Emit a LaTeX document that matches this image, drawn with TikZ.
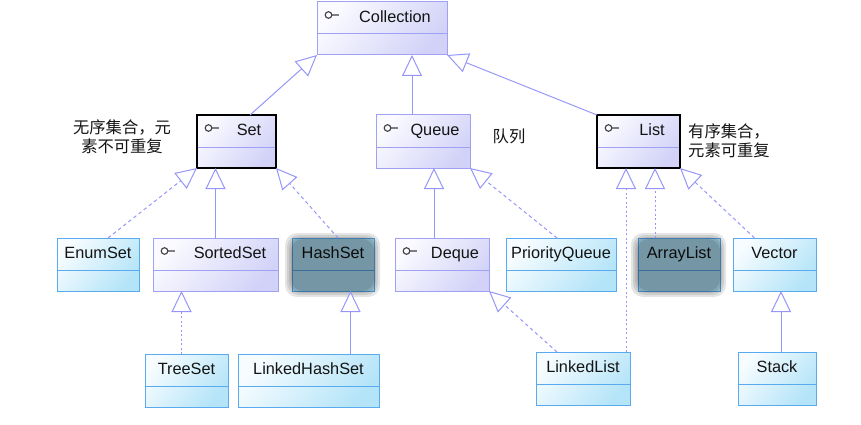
\documentclass[tikz,border=0pt]{standalone}
\usepackage{fontspec}
\setmainfont{Liberation Sans}
\newfontfamily\cjk{Noto Sans CJK SC}
\usetikzlibrary{arrows.meta,calc}

\definecolor{ibord}{RGB}{160,160,245}
\definecolor{ifillA}{RGB}{250,250,255}
\definecolor{ifillB}{RGB}{210,210,248}
\definecolor{cbord}{RGB}{90,170,240}
\definecolor{cfillA}{RGB}{246,252,255}
\definecolor{cfillB}{RGB}{180,228,248}
\definecolor{cfillD}{RGB}{182,234,254}
\definecolor{link}{RGB}{150,150,250}
\definecolor{ink}{RGB}{20,20,20}

\tikzset{
  box/.style={rectangle, inner sep=0pt, outer sep=0pt, line width=1pt},
  iface/.style={box, draw=ibord, top color=ifillA, bottom color=ifillB, shading angle=50,
    path picture={\draw[ibord, line width=1pt]
      ([yshift=-32pt]path picture bounding box.north west) --
      ([yshift=-32pt]path picture bounding box.north east);}},
  klass/.style={box, draw=cbord, top color=cfillA, bottom color=cfillB, shading angle=50,
    path picture={\draw[cbord, line width=1pt]
      ([yshift=-32pt]path picture bounding box.north west) --
      ([yshift=-32pt]path picture bounding box.north east);}},
  dimmed/.style={top color=cfillD, bottom color=cfillD},
  strong/.style={draw=black, line width=2.6pt},
  boxname/.style={anchor=base, inner sep=0pt, text=ink, font=\fontsize{16.3}{18}\selectfont},
  note/.style={inner sep=0pt, text=ink, font=\cjk\fontsize{16.3}{19}\selectfont},
  lolly/.style={draw=black!75, line width=1.1pt},
  gen/.style={draw=link, line width=1pt, -{Triangle[length=21pt, width=20pt, fill=white]}},
  dashline/.style={dash pattern=on 3.5pt off 3pt},
  dotline/.style={dash pattern=on 2pt off 2.5pt},
  dimmer/.style={fill=black, opacity=0.1, rounded corners=12pt}
}

% box: #1 name, #2 style, #3 left, #4 top, #5 right, #6 bottom, #7 text x, #8 text
\newcommand\umlbox[8]{%
  \node[#2, minimum width={(#5-#3)*1pt}, minimum height={(#6-#4)*1pt}]
    (#1) at ({(#3+#5)/2},{(#4+#6)/2}) {};
  \node[boxname] (#1-name) at (#7,{#4+20.5}) {#8};
}
% interface lollipop in the header
\newcommand\ifacesign[1]{%
  \draw[lolly] ([shift={(11.5pt,-13pt)}]#1.north west) circle[radius=3.3pt]
    ++(3.3pt,0pt) -- ++(7pt,0pt);
}
% soft grey highlight over a box
\newcommand\dimbox[1]{%
  \foreach \d in {0,2,4,6}
    \fill[dimmer] ($(#1.north west)+(-7+\d,-5+\d)$) rectangle ($(#1.south east)+(6-\d,6-\d)$);
}

\begin{document}
\begin{tikzpicture}[x=1pt, y=-1pt]
  \useasboundingbox (0,0) rectangle (861,425);

  % interfaces
  \umlbox{coll}{iface}{317}{2}{447}{55}{395}{Collection}
  \umlbox{set}{iface,strong}{197}{115}{276}{168}{249}{Set}
  \umlbox{queue}{iface}{376}{115}{470}{168}{435}{Queue}
  \umlbox{list}{iface,strong}{597}{115}{680}{168}{652}{List}
  \umlbox{sortedset}{iface}{153}{238}{278}{291}{230}{SortedSet}
  \umlbox{deque}{iface}{395}{238}{489}{291}{455}{Deque}
  \foreach \n in {coll,set,queue,list,sortedset,deque} {\ifacesign{\n}}

  % classes
  \umlbox{enumset}{klass}{57}{238}{139}{291}{98}{EnumSet}
  \umlbox{hashset}{klass,dimmed}{292}{238}{374}{291}{333}{HashSet}
  \umlbox{pq}{klass}{506}{238}{616}{291}{561}{PriorityQueue}
  \umlbox{arraylist}{klass,dimmed}{638}{238}{720}{291}{679}{ArrayList}
  \umlbox{vector}{klass}{733}{238}{816}{291}{774.5}{Vector}
  \umlbox{treeset}{klass}{145}{354}{228}{407}{186.5}{TreeSet}
  \umlbox{lhs}{klass}{238}{354}{379}{407}{308.5}{LinkedHashSet}
  \umlbox{linkedlist}{klass}{536}{352}{630}{405}{583}{LinkedList}
  \umlbox{stack}{klass}{738}{352}{816}{405}{777}{Stack}

  \dimbox{hashset}
  \dimbox{arraylist}

  % notes
  \node[note, align=center] (setnote) at (122,136.5) {无序集合，元\\素不可重复};
  \node[note] (queuenote) at (509,136) {队列};
  \node[note, align=left, anchor=west] (listnote) at (688,140.5) {有序集合，\\元素可重复};

  % generalisations
  \draw[gen] ($(set.north)+(13.5,0)$) -- (coll.south west);
  \draw[gen] ($(queue.north)+(-11,0)$) -- ($(coll.south)+(30,0)$);
  \draw[gen] (list.north west) -- (coll.south east);

  \draw[gen,dashline] ($(enumset.north)+(10,0)$) -- (set.south west);
  \draw[gen] (sortedset.north) -- (sortedset.north |- set.south);
  \draw[gen,dashline] ($(hashset.north)+(5,0)$) -- (set.south east);

  \coordinate (dq-top) at ($(deque.north)+(-8,0)$);
  \draw[gen] (dq-top) -- (dq-top |- queue.south);
  \draw[gen,dashline] ($(pq.north)+(-4,0)$) -- (queue.south east);

  \coordinate (ll-top) at ($(linkedlist.north east)+(-4,0)$);
  \draw[gen,dotline] (ll-top) -- (ll-top |- list.south);
  \coordinate (al-top) at ($(arraylist.north)+(-24,0)$);
  \draw[gen,dotline] (al-top) -- (al-top |- list.south);
  \draw[gen,dashline] ($(vector.north)+(-20,0)$) -- (list.south east);

  \draw[gen,dashline] ($(linkedlist.north)+(-26,0)$) -- (deque.south east);

  \coordinate (ts-top) at ($(treeset.north)+(-5,0)$);
  \draw[gen,dotline] (ts-top) -- (ts-top |- sortedset.south);
  \coordinate (lhs-top) at ($(lhs.north)+(42,0)$);
  \draw[gen] (lhs-top) -- (lhs-top |- hashset.south);
  \coordinate (st-top) at ($(stack.north)+(4,0)$);
  \draw[gen] (st-top) -- (st-top |- vector.south);
\end{tikzpicture}
\end{document}
